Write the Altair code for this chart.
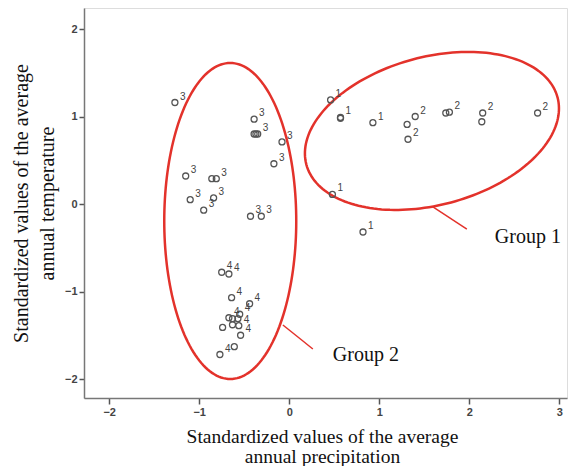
import altair as alt
import pandas as pd
import numpy as np

# ---- data ----
precip = [0.46, 0.57, 0.57, 0.93, 0.48, 0.82,
          1.31, 1.40, 1.32, 1.74, 1.78, 2.15, 2.14, 2.76,
          -1.27, -0.39, -0.39, -0.37, -0.35, -0.08, -0.17, -1.15, -0.86, -0.81,
          -1.10, -0.84, -0.95, -0.43, -0.31,
          -0.75, -0.67, -0.64, -0.44, -0.55, -0.67, -0.63, -0.57, -0.74, -0.63,
          -0.56, -0.54, -0.61, -0.77]
temp = [1.19, 0.99, 0.98, 0.93, 0.11, -0.32,
        0.91, 1.00, 0.74, 1.04, 1.05, 1.04, 0.94, 1.04,
        1.16, 0.97, 0.80, 0.80, 0.80, 0.71, 0.46, 0.32, 0.29, 0.29,
        0.05, 0.07, -0.07, -0.14, -0.14,
        -0.78, -0.80, -1.07, -1.14, -1.26, -1.30, -1.31, -1.31, -1.41, -1.38,
        -1.39, -1.50, -1.63, -1.72]
# cluster label shown next to each point ("" where the reference shows none)
point_label = ["1", "1", "", "1", "1", "1",
               "", "2", "2", "", "2", "2", "", "2",
               "3", "3", "", "", "3", "3", "3", "3", "", "3",
               "3", "3", "3", "3", "3",
               "4", "4", "4", "4", "4", "4", "", "", "", "",
               "4", "4", "", "4"]

# ellipse annotations: center (x, y), semi-axes in pixels, tilt (deg)
ell_names = ["Group 1", "Group 2"]
ell_cx = [1.586, -0.655]
ell_cy = [0.835, -0.194]
ell_a_px = [130, 66]
ell_b_px = [74, 158]
ell_tilt = [15, 0]

# leader lines and group labels
lead_x = [1.597, -0.07]
lead_y = [-0.034, -1.383]
lead_x2 = [1.974, 0.263]
lead_y2 = [-0.286, -1.657]
grp_label_x = [2.285, 0.485]
grp_label_y = [-0.377, -1.726]

W, H = 483, 390
XDOM = [-2.28, -2.28 + 483 / 90]
YDOM = [-2.217, 2.24]
kx = W / (XDOM[1] - XDOM[0])
ky = H / (YDOM[1] - YDOM[0])

pts = pd.DataFrame({"x": precip, "y": temp, "c": point_label})

rows = []
t = np.linspace(0, 2 * np.pi, 181)
for i, nm in enumerate(ell_names):
    th = np.deg2rad(ell_tilt[i])
    px = ell_a_px[i] * np.cos(t) * np.cos(th) - ell_b_px[i] * np.sin(t) * np.sin(th)
    py = ell_a_px[i] * np.cos(t) * np.sin(th) + ell_b_px[i] * np.sin(t) * np.cos(th)
    for j in range(len(t)):
        rows.append({"g": nm, "o": j, "x": ell_cx[i] + px[j] / kx, "y": ell_cy[i] + py[j] / ky})
ell = pd.DataFrame(rows)

leads = pd.DataFrame({"x": lead_x, "y": lead_y, "x2": lead_x2, "y2": lead_y2})
glab = pd.DataFrame({"x": grp_label_x, "y": grp_label_y, "t": ell_names})

xs = alt.Scale(domain=XDOM, nice=False, zero=False)
ys = alt.Scale(domain=YDOM, nice=False, zero=False)

xax = alt.Axis(values=[-2, -1, 0, 1, 2, 3], format="d", grid=False, tickSize=6, tickColor="#555",
               tickWidth=1.5, domainColor="#777", domainWidth=1.5,
               labelFont="Liberation Sans", labelFontWeight="bold", labelFontSize=11,
               labelColor="#444", labelPadding=2,
               title=["Standardized values of the average", "annual precipitation"],
               titleFont="Liberation Serif", titleFontSize=19.5, titleFontWeight="normal",
               titleColor="#111", titleLineHeight=20, titleBaseline="alphabetic",
               titleX=238, titleY=44, titleAlign="center")
yax = alt.Axis(values=[-2, -1, 0, 1, 2], format="d", grid=False, tickSize=5, tickColor="#555",
               tickWidth=1.5, domainColor="#777", domainWidth=1.5,
               labelFont="Liberation Sans", labelFontWeight="bold", labelFontSize=11,
               labelColor="#444", labelPadding=2,
               title=["Standardized values of the average", "annual temperature"],
               titleFont="Liberation Serif", titleFontSize=20, titleFontWeight="normal",
               titleColor="#111", titleLineHeight=26, titleBaseline="alphabetic",
               titleAngle=270, titleX=-57, titleY=195, titleAlign="center")

base_pts = alt.Chart(pts)
points = base_pts.mark_point(shape="circle", filled=False, size=36, strokeWidth=1.3,
                             color="#555", opacity=1).encode(
    x=alt.X("x:Q", scale=xs, axis=xax), y=alt.Y("y:Q", scale=ys, axis=yax))
labels = base_pts.transform_filter(alt.datum.c != "").mark_text(
    align="left", baseline="middle", dx=5, dy=-6,
    font="Liberation Sans", fontSize=10, color="#444").encode(
    x=alt.X("x:Q", scale=xs), y=alt.Y("y:Q", scale=ys), text="c:N")

ellipses = alt.Chart(ell).mark_line(color="#e3322b", strokeWidth=2.5).encode(
    x=alt.X("x:Q", scale=xs), y=alt.Y("y:Q", scale=ys), detail="g:N", order="o:Q")

leaders = alt.Chart(leads).mark_rule(color="#e3322b", strokeWidth=1.5).encode(
    x=alt.X("x:Q", scale=xs), y=alt.Y("y:Q", scale=ys), x2="x2:Q", y2="y2:Q")

gtext = alt.Chart(glab).mark_text(align="left", baseline="middle", font="Liberation Serif",
                                  fontSize=20, color="#111").encode(
    x=alt.X("x:Q", scale=xs), y=alt.Y("y:Q", scale=ys), text="t:N")

chart = alt.layer(ellipses, leaders, points, labels, gtext).properties(
    width=W, height=H,
    autosize=alt.AutoSizeParams(type="none"),
    padding={"left": 76, "top": 0, "right": 1, "bottom": 68},
).configure_view(stroke="#777", strokeWidth=1.5).configure(background="white")

chart.save("out.html", embed_options={"renderer": "svg", "actions": False})
